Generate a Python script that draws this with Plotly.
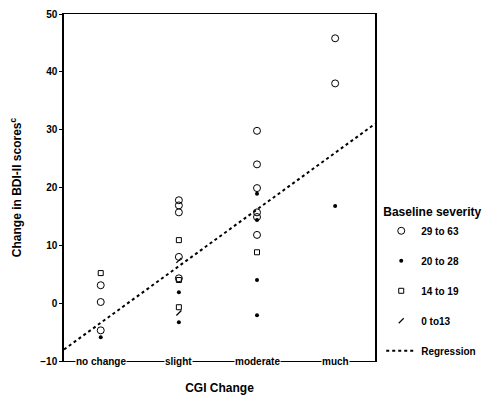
import plotly.graph_objects as go

categories = ["no change", "slight", "moderate", "much"]
y_ticks = [-10, 0, 10, 20, 30, 40, 50]

# Baseline severity groups: (category index, change in BDI-II)
sev_29_63_x = [0, 0, 0, 1, 1, 1, 1, 1, 2, 2, 2, 2, 2, 2, 3, 3]
sev_29_63_y = [3.1, 0.2, -4.7, 17.8, 16.9, 15.7, 8.0, 4.3, 29.8, 24.0, 19.9, 15.7, 14.9, 11.8, 45.8, 38.0]
sev_20_28_x = [0, 1, 1, 2, 2, 2, 2, 3]
sev_20_28_y = [-5.9, 1.9, -3.3, 18.9, 14.4, 4.0, -2.1, 16.8]
sev_14_19_x = [0, 1, 1, 1, 2]
sev_14_19_y = [5.2, 10.9, 4.0, -0.7, 8.8]
sev_0_13_x = [1, 1]
sev_0_13_y = [7.4, -1.7]

reg_intercept = -3.4
reg_slope = 9.8
x_range = [-0.47, 3.51]

FONT = "Liberation Sans"

fig = go.Figure()
fig.add_trace(go.Scatter(x=sev_29_63_x, y=sev_29_63_y, mode="markers", name="29 to 63",
                         legendgroup="a",
                         marker=dict(symbol="circle-open", size=7, color="black", line=dict(width=1))))
fig.add_trace(go.Scatter(x=sev_20_28_x, y=sev_20_28_y, mode="markers", name="20 to 28",
                         legendgroup="b",
                         marker=dict(symbol="circle", size=4, color="black")))
fig.add_trace(go.Scatter(x=sev_14_19_x, y=sev_14_19_y, mode="markers", name="14 to 19",
                         legendgroup="c",
                         marker=dict(symbol="square-open", size=5, color="black", line=dict(width=1))))
fig.add_trace(go.Scatter(x=sev_0_13_x, y=sev_0_13_y, mode="markers", name="0 to13",
                         legendgroup="d",
                         marker=dict(symbol="line-ne", size=5, color="black", line=dict(width=1.2, color="black"))))
fig.add_trace(go.Scatter(x=x_range, y=[reg_intercept + reg_slope * v for v in x_range],
                         mode="lines", name="Regression", legendgroup="e",
                         line=dict(color="black", width=2, dash="3px,3px")))

for i, c in enumerate(categories):
    fig.add_annotation(x=i, y=-10, xref="x", yref="y", text=c, showarrow=False,
                       bgcolor="white", font=dict(size=10, family=FONT, color="black", weight="bold"),
                       borderpad=0)

fig.update_layout(
    width=498, height=400,
    margin=dict(l=56, r=131, t=6, b=47),
    plot_bgcolor="white", paper_bgcolor="white",
    font=dict(family=FONT, color="black"),
    legend=dict(x=1.02, y=0.462, xanchor="left", yanchor="top",
                title=dict(text="Baseline severity", font=dict(size=12, weight="bold")),
                font=dict(size=10, weight="bold"), tracegroupgap=11,
                bgcolor="rgba(0,0,0,0)"),
)
fig.update_xaxes(range=x_range, showgrid=False, zeroline=False, showticklabels=False,
                 ticks="", showline=True, linecolor="black", linewidth=1.2, mirror=True,
                 automargin=False,
                 title=dict(text="CGI Change", font=dict(size=12, weight="bold"), standoff=22))
fig.update_yaxes(range=[-10, 50], tickvals=y_ticks, showgrid=False, zeroline=False,
                 ticks="outside", ticklen=3, tickcolor="black",
                 showline=True, linecolor="black", linewidth=1.5, mirror=True,
                 automargin=False,
                 tickfont=dict(size=10, weight="bold"),
                 title=dict(text="Change in BDI-II scores<sup>c</sup>", font=dict(size=12, weight="bold"), standoff=20))

fig.write_html("out.html")
